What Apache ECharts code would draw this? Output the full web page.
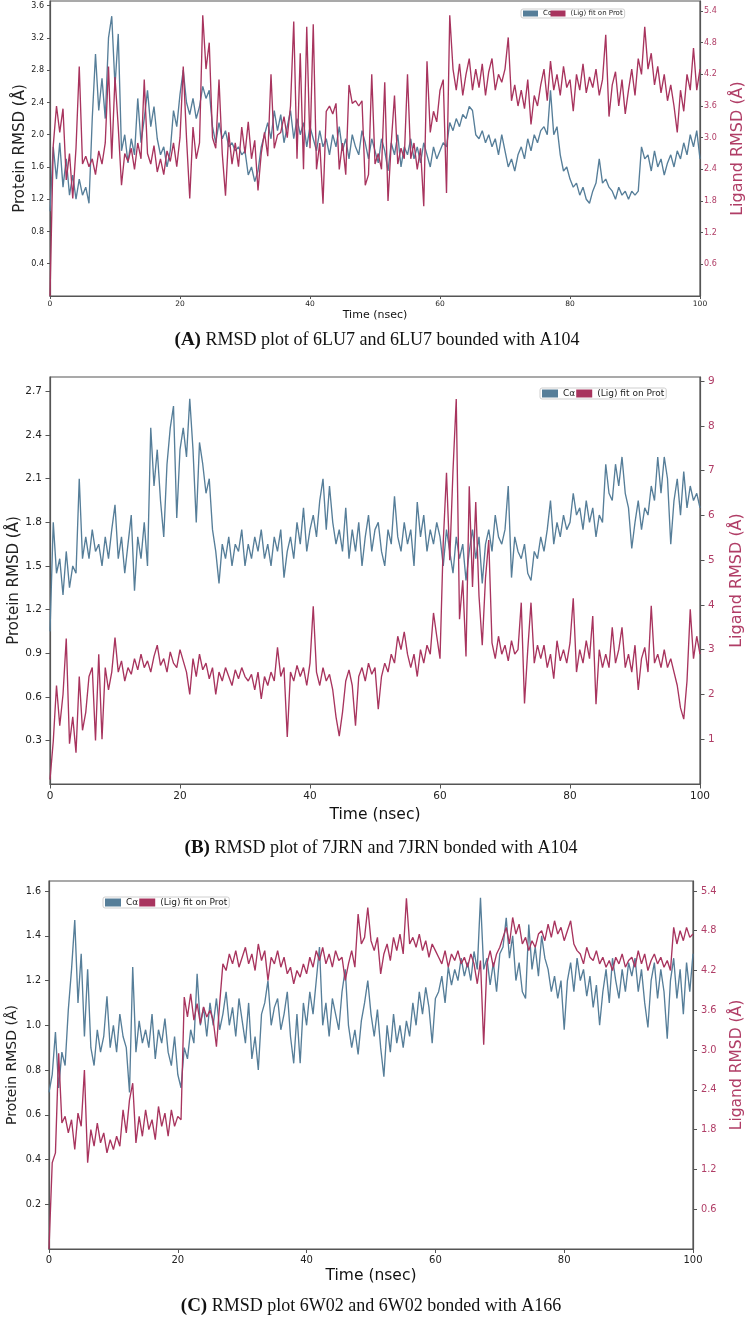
<!DOCTYPE html>
<html><head><meta charset="utf-8">
<script src="https://cdn.jsdelivr.net/npm/echarts@6/dist/echarts.min.js"></script>
<style>html,body{margin:0;padding:0;background:#fff}#c{width:748px;height:1317px}</style>
</head><body><div id="c"></div>
<script>
// sampling interval of all trajectories (ns)
const timeStep = 0.5;
const xTicks = [0, 20, 40, 60, 80, 100];
const aLeftTicks = [0.4, 0.8, 1.2, 1.6, 2.0, 2.4, 2.8, 3.2, 3.6];
const aRightTicks = [0.6, 1.2, 1.8, 2.4, 3.0, 3.6, 4.2, 4.8, 5.4];
const bLeftTicks = [0.3, 0.6, 0.9, 1.2, 1.5, 1.8, 2.1, 2.4, 2.7];
const bRightTicks = [1, 2, 3, 4, 5, 6, 7, 8, 9];
const cLeftTicks = [0.2, 0.4, 0.6, 0.8, 1.0, 1.2, 1.4, 1.6];
const cRightTicks = [0.6, 1.2, 1.8, 2.4, 3.0, 3.6, 4.2, 4.8, 5.4];

const seriesNames = ['Cα', '(Lig) fit on Prot'];
const captions = [
  ['(A)', ' RMSD plot of 6LU7 and 6LU7 bounded with A104'],
  ['(B)', ' RMSD plot of 7JRN and 7JRN bonded with A104'],
  ['(C)', ' RMSD plot 6W02 and 6W02 bonded with A166']
];

// Panel A
const protA = [1.05,1.85,1.45,1.9,1.35,1.7,1.25,1.5,1.2,1.45,1.25,
 1.35,1.15,2.2,3.0,2.3,2.7,2.2,3.2,3.47,2.6,
 3.25,1.8,2.0,1.65,1.95,1.75,2.45,1.9,2.2,2.55,
 2.1,2.35,1.95,1.75,1.85,1.6,1.8,2.3,2.1,2.5,
 2.8,2.4,2.25,2.45,2.2,2.35,2.6,2.45,2.55,2.1,
 1.9,2.15,1.95,2.05,1.85,1.9,1.8,1.85,1.75,1.8,
 1.5,1.6,1.42,1.55,1.85,2.0,2.15,1.95,2.3,2.05,
 2.25,1.9,2.1,2.3,1.95,2.2,2.0,2.15,1.85,2.1,
 1.95,1.8,2.05,1.85,1.95,1.75,2.0,1.85,2.1,1.8,
 1.95,1.7,2.0,1.85,1.75,2.05,1.9,1.7,1.95,1.8,
 1.65,1.95,1.8,1.55,1.9,1.75,2.0,1.6,1.85,1.75,
 1.95,1.7,1.85,1.65,1.9,1.75,1.6,1.85,1.7,1.8,
 1.9,1.85,2.15,2.05,2.2,2.1,2.25,2.2,2.35,2.3,
 2.0,1.95,2.05,1.9,2.0,1.85,1.95,1.75,2.0,1.8,
 1.6,1.7,1.55,1.75,1.85,1.7,1.95,1.8,2.0,1.9,
 2.05,2.1,2.0,2.55,2.0,2.1,1.75,1.55,1.6,1.45,
 1.35,1.4,1.25,1.35,1.2,1.15,1.3,1.4,1.7,1.4,
 1.45,1.35,1.3,1.2,1.35,1.25,1.3,1.2,1.3,1.25,
 1.3,1.85,1.7,1.75,1.55,1.8,1.6,1.7,1.5,1.65,
 1.75,1.6,1.8,1.7,1.9,1.75,2.0,1.85,2.05,1.7];
const ligA = [0.0,2.85,3.6,3.1,3.55,2.2,2.7,1.85,2.8,4.35,2.5,
 2.65,2.45,2.6,2.3,2.75,2.5,2.9,4.35,2.6,4.15,
 3.2,2.1,2.7,2.55,2.8,2.4,2.9,2.6,4.1,2.7,
 2.5,2.85,2.35,2.6,2.3,2.75,2.55,2.9,2.45,3.0,
 4.35,3.0,1.85,3.2,2.6,2.9,5.32,4.3,4.8,3.0,
 2.8,4.1,2.7,1.9,3.1,2.5,2.9,2.45,3.2,2.7,
 3.3,2.6,2.95,2.0,2.7,3.1,2.65,4.2,2.8,3.05,
 3.1,3.4,3.0,3.6,5.2,2.6,4.6,2.4,5.1,2.8,
 5.15,2.4,2.9,1.75,3.5,3.6,3.45,3.65,2.4,2.9,
 2.3,4.0,3.65,3.7,3.6,3.7,2.1,2.3,4.2,2.5,
 2.7,2.4,4.05,1.8,2.9,3.8,2.5,2.8,2.6,4.2,
 2.6,2.9,2.4,2.8,1.7,4.45,3.1,3.5,3.3,3.9,
 4.1,1.95,5.32,4.3,3.9,4.4,3.8,4.2,4.5,3.9,
 4.3,3.95,4.4,3.8,4.25,4.5,3.9,4.2,4.05,4.3,
 4.9,3.7,4.0,3.6,3.9,3.55,4.1,3.25,3.8,3.6,
 4.0,4.3,3.7,4.45,3.9,4.2,3.8,4.35,3.95,4.1,
 3.5,4.2,3.9,4.4,3.85,4.15,3.95,4.3,3.8,4.1,
 4.95,3.4,4.0,4.25,3.6,4.1,3.45,3.9,4.3,3.8,
 4.5,4.2,5.1,4.3,4.6,4.0,4.35,3.85,4.2,3.7,
 4.0,3.6,3.1,3.9,3.5,4.2,3.9,4.7,3.9,4.3];

// Panel B
const protB = [1.05,1.8,1.45,1.55,1.3,1.6,1.35,1.5,1.45,2.1,1.55,
 1.7,1.55,1.75,1.6,1.65,1.5,1.7,1.55,1.75,1.92,
 1.55,1.7,1.45,1.65,1.85,1.33,1.7,1.55,1.8,1.5,
 2.45,2.05,2.3,1.95,1.7,2.2,2.45,2.6,1.83,2.3,
 2.45,2.25,2.65,2.3,1.8,2.35,2.2,2.0,2.1,1.75,
 1.6,1.38,1.65,1.55,1.7,1.5,1.65,1.6,1.75,1.5,
 1.65,1.55,1.7,1.6,1.75,1.55,1.65,1.5,1.7,1.6,
 1.75,1.42,1.6,1.7,1.55,1.8,1.65,1.9,1.6,1.75,
 1.85,1.7,1.95,2.1,1.75,2.05,1.8,1.65,1.75,1.6,
 1.9,1.55,1.75,1.6,1.8,1.5,1.7,1.85,1.6,1.75,
 1.8,1.6,1.5,1.75,1.65,1.98,1.7,1.6,1.8,1.65,
 1.75,1.5,1.94,1.7,1.85,1.6,1.75,1.65,1.8,1.7,
 1.5,1.75,1.6,1.45,1.7,1.55,1.65,1.4,1.6,1.75,
 1.55,1.7,1.38,1.65,1.75,1.6,1.85,1.7,1.65,1.75,
 2.05,1.42,1.7,1.6,1.55,1.65,1.45,1.4,1.6,1.55,
 1.7,1.6,1.75,1.95,1.65,1.8,1.7,1.85,1.75,1.8,
 2.0,1.85,1.9,1.75,1.95,1.8,1.9,1.7,1.85,1.8,
 2.2,2.0,1.95,2.2,2.05,2.25,2.0,1.9,1.62,1.8,
 1.95,1.75,1.9,1.85,2.05,1.95,2.25,2.0,2.25,2.1,
 1.65,1.95,2.1,1.85,2.15,1.9,2.05,1.95,2.0,1.9];
const ligB = [0.1,0.95,2.2,1.3,2.0,3.25,0.9,1.5,0.7,2.4,1.2,
 1.6,2.4,2.6,0.97,2.9,1.0,2.6,2.1,2.5,3.27,
 2.5,2.75,2.3,2.6,2.45,2.8,2.55,2.9,2.6,2.75,
 2.5,2.85,3.1,2.65,2.8,2.5,2.95,2.7,2.6,3.0,
 2.75,2.5,2.0,2.8,2.4,2.9,2.55,2.7,2.35,2.6,
 2.0,2.5,2.3,2.6,2.4,2.2,2.55,2.35,2.6,2.4,
 2.3,2.45,2.1,2.5,1.9,2.4,2.2,2.5,2.3,3.05,
 2.4,2.6,1.05,2.5,2.3,2.65,2.4,2.6,2.2,2.7,
 3.97,2.5,2.2,2.6,2.3,2.45,2.1,1.5,1.07,1.6,
 2.3,2.55,2.2,1.3,2.4,2.6,2.3,2.7,2.45,2.6,
 1.67,2.4,2.7,2.5,2.9,2.7,3.3,3.0,3.4,2.9,
 2.6,2.9,2.4,3.0,2.7,3.1,2.9,3.82,3.3,2.8,
 5.4,6.95,5.0,7.0,8.6,3.68,4.55,2.85,6.65,4.4,
 6.3,4.2,3.1,4.6,5.45,3.15,2.8,3.3,2.9,3.1,
 2.75,3.2,2.9,3.0,4.05,1.8,3.0,4.05,2.7,3.1,
 2.8,3.1,2.6,2.9,2.35,3.2,2.75,3.0,2.7,3.15,
 4.15,2.5,3.0,2.7,3.2,2.8,3.75,1.78,3.0,2.6,
 2.9,2.6,3.5,2.7,3.0,3.5,2.6,2.9,2.5,3.1,
 2.1,2.8,3.05,2.5,3.98,2.7,2.9,2.6,3.0,2.6,
 2.8,2.5,2.2,1.7,1.45,2.3,3.9,2.8,3.3,2.9];

// Panel C
const protC = [0.7,0.78,0.97,0.72,0.88,0.82,1.07,1.25,1.47,1.1,1.32,
 0.95,1.25,0.9,0.82,0.98,0.88,0.95,1.13,0.9,1.0,
 0.88,1.05,0.95,0.9,0.7,1.26,0.88,1.02,0.92,0.98,
 0.9,1.05,0.85,0.98,0.92,1.03,0.88,0.82,0.95,0.78,
 0.72,0.9,0.85,0.98,0.92,1.23,1.0,1.08,0.95,1.1,
 1.0,1.12,0.98,1.05,1.15,1.0,1.08,0.95,1.12,1.02,
 0.92,1.1,0.85,0.95,0.8,1.05,1.1,1.2,1.0,1.08,
 1.12,0.98,1.05,1.15,0.95,0.83,1.05,0.83,1.1,1.0,
 1.15,1.05,1.2,1.35,1.0,1.1,0.95,1.12,1.05,0.98,
 1.15,1.25,1.0,0.9,0.98,0.87,1.02,1.1,1.2,1.05,
 0.95,1.07,0.9,0.77,1.0,0.88,1.05,0.92,1.0,0.9,
 1.02,0.95,1.1,1.0,1.15,1.05,1.17,1.08,0.92,1.12,
 1.15,1.22,1.1,1.26,1.18,1.25,1.2,1.3,1.22,1.28,
 1.2,1.33,1.25,1.57,1.25,1.3,1.18,1.28,1.15,1.32,
 1.35,1.48,1.3,1.4,1.2,1.28,1.15,1.12,1.45,1.25,
 1.35,1.22,1.4,1.3,1.25,1.15,1.22,1.12,1.2,0.98,
 1.2,1.28,1.15,1.3,1.2,1.25,1.13,1.22,1.08,1.18,
 1.0,1.15,1.25,1.1,1.3,1.2,1.12,1.25,1.15,1.28,
 1.22,1.3,1.15,1.25,1.1,0.99,1.2,1.28,1.12,1.25,
 1.15,0.94,1.2,1.3,1.12,1.25,1.05,1.28,1.15,1.32];
const ligC = [0.0,1.3,1.45,2.95,1.9,2.0,1.75,1.95,1.5,2.05,1.85,
 2.7,1.3,1.8,1.55,1.9,1.6,1.75,1.45,1.65,1.5,
 1.7,1.55,2.1,1.75,2.25,2.5,1.6,2.0,1.7,2.1,
 1.8,1.95,1.65,2.15,1.85,2.05,1.7,2.1,1.85,2.0,
 1.95,3.8,3.5,3.85,3.45,3.7,3.4,3.65,3.5,3.6,
 3.45,3.05,3.7,4.3,4.2,4.45,4.3,4.5,4.25,4.4,
 4.55,4.3,4.45,4.2,4.6,4.35,4.5,4.05,4.4,4.3,
 4.5,4.25,4.4,4.15,4.25,4.0,4.2,4.1,4.3,4.15,
 4.4,4.25,4.5,4.35,4.55,4.3,4.45,4.25,4.5,4.35,
 4.4,4.05,4.3,4.5,4.25,5.05,4.6,4.7,5.15,4.65,
 4.5,4.7,4.15,4.45,4.6,4.35,4.7,4.5,4.75,4.45,
 5.29,4.6,4.7,4.55,4.75,4.5,4.65,4.4,4.6,4.5,
 4.4,4.3,4.5,4.25,4.45,4.35,4.5,4.3,4.4,4.25,
 4.45,4.3,4.0,4.35,3.08,4.3,4.5,4.25,4.45,4.55,
 4.7,4.85,4.6,5.0,4.75,4.9,4.6,4.7,4.5,4.65,
 4.55,4.75,4.8,4.65,4.9,4.7,4.95,4.75,4.85,4.65,
 4.8,4.95,4.6,4.5,4.45,4.3,4.55,4.4,4.35,4.5,
 4.3,4.4,4.25,4.35,4.2,4.4,4.3,4.45,4.25,4.35,
 4.4,4.25,4.5,4.3,4.45,4.2,4.35,4.45,4.3,4.4,
 4.25,4.35,4.2,4.85,4.6,4.8,4.65,4.85,4.7,4.75];

const BLUE = '#567e99', RED = '#a8345e', RED_TXT = '#b03d66', FRAME = '#555', SANS = 'DejaVu Sans';

function pairs(arr) { return arr.map((v, i) => [i * timeStep, v]); }

function xAx(gi, fs, nameFs, nameGap, tickLen, margin) {
  return {
    type: 'value', gridIndex: gi, min: 0, max: 100,
    name: 'Time (nsec)', nameLocation: 'middle', nameGap: nameGap, nameMoveOverlap: false,
    nameTextStyle: { fontSize: nameFs, fontFamily: SANS, color: '#111' },
    axisLine: { show: true, lineStyle: { color: FRAME, width: 1.2 } },
    axisTick: { show: true, length: tickLen, customValues: xTicks, lineStyle: { color: FRAME } },
    axisLabel: { customValues: xTicks, fontSize: fs, fontFamily: SANS, color: '#222', margin: margin },
    splitLine: { show: false }
  };
}
function yAx(gi, pos, max, ticks, dec, fs, name, nameFs, nameGap, tickLen, margin, txtColor) {
  return {
    type: 'value', gridIndex: gi, position: pos, min: 0, max: max,
    name: name, nameLocation: 'middle', nameGap: nameGap, nameMoveOverlap: false,
    nameTextStyle: { fontSize: nameFs, fontFamily: SANS, color: txtColor },
    axisLine: { show: true, lineStyle: { color: FRAME, width: 1.2 } },
    axisTick: { show: true, length: tickLen, customValues: ticks, lineStyle: { color: FRAME } },
    axisLabel: { customValues: ticks, fontSize: fs, fontFamily: SANS, color: txtColor, margin: margin,
      formatter: v => v.toFixed(dec) },
    splitLine: { show: false }
  };
}
function legendAt(left, top, iw, ih, fs, gap) {
  return {
    left: left, top: top, orient: 'horizontal', itemWidth: iw, itemHeight: ih, itemGap: gap,
    padding: [1, 2], borderColor: '#cfcfcf', borderWidth: 1, borderRadius: 2,
    backgroundColor: 'rgba(255,255,255,0.85)', selectedMode: false,
    textStyle: { fontSize: fs, fontFamily: SANS, color: '#222' },
    data: [{ name: seriesNames[0], icon: 'rect' }, { name: seriesNames[1], icon: 'rect' }]
  };
}
function line(name, xi, yi, data, color, z) {
  return { type: 'line', name: name, xAxisIndex: xi, yAxisIndex: yi, data: pairs(data),
    symbol: 'none', showSymbol: false, z: z,
    lineStyle: { width: 1.35, color: color }, itemStyle: { color: color } };
}
function caption(i, x, y) {
  return { type: 'text', x: x, y: y, z: 10,
    style: { text: '{b|' + captions[i][0] + '}' + captions[i][1],
      fontSize: 18, fontFamily: 'Liberation Serif', fill: '#111',
      textAlign: 'center', textVerticalAlign: 'middle',
      rich: { b: { fontWeight: 'bold', fontSize: 19, fontFamily: 'Liberation Serif', fill: '#111' } } } };
}
function gridAt(left, top, width, height) {
  return { left: left, top: top, width: width, height: height, show: true, borderColor: FRAME,
    borderWidth: 1.2, backgroundColor: 'transparent', containLabel: false, outerBoundsMode: 'none' };
}

const chart = echarts.init(document.getElementById('c'), null, { renderer: 'canvas' });
chart.setOption({
  animation: false,
  backgroundColor: '#fff',
  grid: [ gridAt(50, 1, 650, 295), gridAt(50, 377, 650, 407), gridAt(49, 881, 644, 368) ],
  xAxis: [
    xAx(0, 7.5, 11, 14, 3, 4),
    xAx(1, 10.5, 15.5, 23, 4.5, 7),
    xAx(2, 10, 15.5, 19, 4, 6)
  ],
  yAxis: [
    yAx(0, 'left', 3.658, aLeftTicks, 1, 8, 'Protein RMSD (Å)', 15, 22, 3, 6, '#222'),
    yAx(0, 'right', 5.59, aRightTicks, 1, 8, 'Ligand RMSD (Å)', 16, 30, 3, 4, RED_TXT),
    yAx(1, 'left', 2.80, bLeftTicks, 1, 10.5, 'Protein RMSD (Å)', 15, 28, 4.5, 8, '#222'),
    yAx(1, 'right', 9.09, bRightTicks, 0, 10.5, 'Ligand RMSD (Å)', 16, 28.5, 4.5, 8, RED_TXT),
    yAx(2, 'left', 1.645, cLeftTicks, 1, 9.6, 'Protein RMSD (Å)', 14, 30, 4, 8, '#222'),
    yAx(2, 'right', 5.55, cRightTicks, 1, 9.8, 'Ligand RMSD (Å)', 15.5, 36, 4, 8, RED_TXT)
  ],
  legend: [
    legendAt(521, 9, 15, 6, 7, -2),
    legendAt(540, 388, 16, 8, 9, 1),
    legendAt(103, 897, 16, 8, 9, 1)
  ],
  graphic: [ caption(0, 377, 340), caption(1, 381, 848), caption(2, 371, 1306) ],
  series: [
    line(seriesNames[0], 0, 0, protA, BLUE, 2),
    line(seriesNames[1], 0, 1, ligA, RED, 3),
    line(seriesNames[0], 1, 2, protB, BLUE, 2),
    line(seriesNames[1], 1, 3, ligB, RED, 3),
    line(seriesNames[0], 2, 4, protC, BLUE, 2),
    line(seriesNames[1], 2, 5, ligC, RED, 3)
  ]
});
</script>
</body></html>
